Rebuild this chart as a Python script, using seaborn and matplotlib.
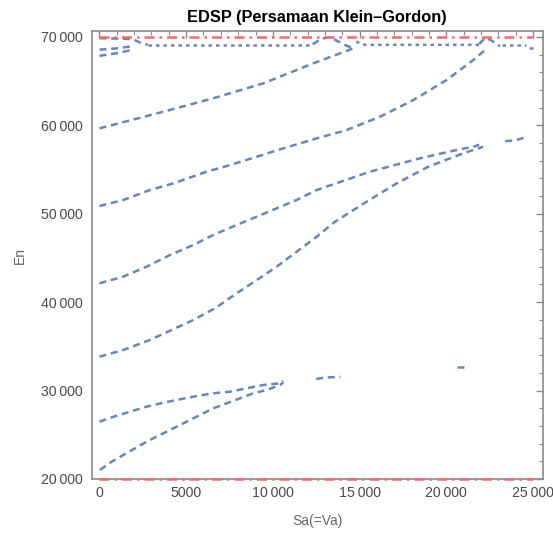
import matplotlib
matplotlib.use("Agg")
import matplotlib.pyplot as plt
import seaborn as sns
import pandas as pd
from matplotlib.ticker import MultipleLocator, FuncFormatter

# ---- data ----
lowest_x = [30, 700, 1370, 2050, 2720, 3490, 4260, 5030, 5800, 6560, 7340, 8100, 8870, 9640, 10410, 10600]
lowest_y = [21020, 21960, 22710, 23470, 24220, 24980, 25730, 26480, 27240, 27990, 28560, 29120, 29690, 30060, 30630, 30900]

second_x = [0, 800, 1760, 2720, 3680, 4640, 5610, 6560, 7530, 8490, 9450, 10410, 10600]
second_y = [26480, 27040, 27610, 28180, 28630, 29010, 29380, 29690, 29870, 30260, 30630, 30820, 31100]

seg3_x = [12500, 13000, 13900]
seg3_y = [31300, 31480, 31550]

seg4_x = [20600, 21000]
seg4_y = [32700, 32700]

curveD_x = [0, 1370, 2910, 4160, 5410, 6660, 7910, 9070, 10220, 11370, 12530,
            13580, 15410, 17140, 18960, 20980, 22130]
curveD_y = [33830, 34590, 35720, 36850, 37980, 39300, 41000, 42500, 44010, 45700, 47400,
            49090, 51360, 53430, 55310, 56830, 57570]

curveC_x = [0, 1370, 2720, 4070, 5410, 6560, 7910, 9070, 10220, 11370, 12530,
            15600, 18480, 20400, 21560, 21900]
curveC_y = [42130, 42880, 44010, 45330, 46460, 47590, 48720, 49660, 50610, 51550, 52680,
            54750, 56260, 57120, 57570, 57800]

seg5_x = [23400, 24000, 24650]
seg5_y = [58200, 58300, 58700]

curveB_x = [0, 1370, 2910, 4260, 6180, 7530, 9070, 10600, 12530, 14260, 16180,
            18100, 20020, 21560, 22230]
curveB_y = [50870, 51550, 52680, 53430, 54750, 55500, 56440, 57390, 58520, 59460, 60970,
            62850, 65120, 67380, 68500]

curveA_x = [0, 3680, 6560, 9450, 12330, 13870, 14640]
curveA_y = [59650, 61530, 63050, 64740, 67000, 68130, 68700]

topL1_x = [0, 1000, 1950]
topL1_y = [67850, 68150, 68550]
topL2_x = [0, 1000, 1950]
topL2_y = [68550, 68700, 68950]
topL3_x = [0, 1000, 1900, 2400, 2800]
topL3_y = [69850, 69800, 69750, 69300, 69100]

wavy1_x = [2800, 12300]
wavy1_y = [69100, 69100]
peak1_x = [12300, 12800, 13300, 13800, 14300, 14700]
peak1_y = [69150, 69800, 69950, 69450, 68950, 68700]
wavy2_x = [14800, 15300, 21900]
wavy2_y = [69450, 69100, 69100]
peak2_x = [21900, 22250, 22600, 23100]
peak2_y = [69200, 69900, 69600, 68950]
wavy3_x = [23200, 24600]
wavy3_y = [69100, 69100]
tail_x = [24750, 25000]
tail_y = [68750, 68750]

limit_x = [0, 25000]
limit_hi = [70000, 70000]
limit_lo = [20000, 20000]

x_ticks = [0, 5000, 10000, 15000, 20000, 25000]
y_ticks = [20000, 30000, 40000, 50000, 60000, 70000]

# ---- drawing ----
sns.set_theme(style="white")
plt.rcParams['font.family'] = ['Liberation Sans', 'DejaVu Sans']

fig = plt.figure(figsize=(5.53, 5.33), dpi=100)
ax = fig.add_axes([92/553, 1-479/533, (542.5-92)/553, (479-31)/533])

blue = '#5E81B5'
dash_main = (0, (2.8, 1.9))
dash_fine = (0, (1.4, 1.6))

main = [(lowest_x, lowest_y), (second_x, second_y), (seg3_x, seg3_y),
        (seg4_x, seg4_y), (curveD_x, curveD_y), (curveC_x, curveC_y),
        (seg5_x, seg5_y), (curveB_x, curveB_y), (curveA_x, curveA_y),
        (topL1_x, topL1_y), (topL2_x, topL2_y), (topL3_x, topL3_y),
        (peak1_x, peak1_y), (peak2_x, peak2_y), (tail_x, tail_y)]
fine = [(wavy1_x, wavy1_y), (wavy2_x, wavy2_y), (wavy3_x, wavy3_y)]

for xs, ys in main:
    df = pd.DataFrame({'x': xs, 'y': ys})
    sns.lineplot(data=df, x='x', y='y', ax=ax, color=blue, lw=1.8,
                 linestyle=dash_main, sort=False, estimator=None, alpha=0.95)
for xs, ys in fine:
    df = pd.DataFrame({'x': xs, 'y': ys})
    sns.lineplot(data=df, x='x', y='y', ax=ax, color=blue, lw=1.8,
                 linestyle=dash_fine, sort=False, estimator=None, alpha=0.95)

red = '#F36B6B'
for ys in (limit_hi, limit_lo):
    df = pd.DataFrame({'x': limit_x, 'y': ys})
    sns.lineplot(data=df, x='x', y='y', ax=ax, color=red, lw=1.8,
                 linestyle=(0, (4.0, 2.0, 1.0, 2.0)), sort=False,
                 estimator=None, clip_on=False, zorder=5)

ax.set_xlim(-430, 25550)
ax.set_ylim(20000, 70660)

def fmt(v, pos):
    v = int(round(v))
    if abs(v) >= 10000:
        s = f"{v:,}".replace(",", "\u2009")
    else:
        s = str(v)
    return s

ax.set_xticks(x_ticks)
ax.set_yticks(y_ticks)
ax.xaxis.set_major_formatter(FuncFormatter(fmt))
ax.yaxis.set_major_formatter(FuncFormatter(fmt))
ax.xaxis.set_minor_locator(MultipleLocator(1000))
ax.yaxis.set_minor_locator(MultipleLocator(2000))

frame_c = '#8a8a8a'
for sp in ax.spines.values():
    sp.set_color(frame_c)
    sp.set_linewidth(1.2)
ax.tick_params(which='both', direction='in', top=True, right=True,
               color=frame_c, labelcolor='#4a4a4a', labelsize=10.2)
ax.tick_params(which='major', length=5, width=1)
ax.tick_params(which='minor', length=3, width=0.8)
ax.tick_params(axis='x', pad=5)
ax.tick_params(axis='y', pad=7)

ax.set_xlabel('Sa(=Va)', color='#666666', fontsize=10, labelpad=10)
ax.set_ylabel('En', color='#666666', fontsize=10, labelpad=10)
ax.set_title('EDSP (Persamaan Klein\u2013Gordon)', fontsize=11.8,
             fontweight='bold', color='black', pad=6.5)

fig.savefig('out.png', dpi=100)
